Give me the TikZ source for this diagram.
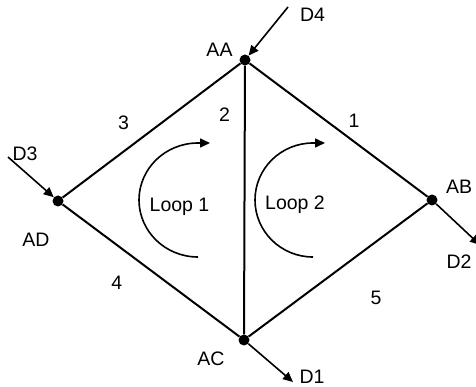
\documentclass[tikz,border=0pt]{standalone}
\usepackage{fontspec}
\setmainfont{Liberation Sans}
\usetikzlibrary{arrows.meta}
\begin{document}
\begin{tikzpicture}[x=1pt,y=-1pt,
  lbl/.style={font=\fontsize{19.5}{22}\selectfont, inner sep=0pt, anchor=base},
  edge/.style={line width=2pt},
  flow/.style={line width=1.6pt,-{Triangle[length=10pt,width=9pt]}},
  dotn/.style={circle,fill=black,inner sep=0pt,minimum size=11pt}]
\useasboundingbox (0,0) rectangle (476,387);
\node[dotn] (AA) at (245,60) {};
\node[dotn] (AD) at (58,201) {};
\node[dotn] (AB) at (432,200) {};
\node[dotn] (AC) at (244,340) {};
\draw[edge] (AA) -- (AD) -- (AC) -- (AB) -- (AA) -- (AC);
\coordinate (d4) at (288,7);
\coordinate (d3) at (8,157);
\coordinate (d2) at (480,245);
\coordinate (d1) at (293,382);
\draw[flow] (d4) -- (AA);
\draw[flow] (d3) -- (AD);
\draw[flow] (AB) -- (d2);
\draw[flow] (AC) -- (d1);
\node[lbl] (tAA) at (219.5,56.7) {AA};
\node[lbl] (tD4) at (312.5,21.7) {D4};
\node[lbl] (tD3) at (25,160.7) {D3};
\node[lbl] (tAD) at (36,246.7) {AD};
\node[lbl] (tAB) at (459,193.3) {AB};
\node[lbl] (tD2) at (459,268.3) {D2};
\node[lbl] (tAC) at (211,365) {AC};
\node[lbl] (tD1) at (312,383.3) {D1};
\node[lbl] (e3) at (123.5,130) {3};
\node[lbl] (e2) at (224.5,121.7) {2};
\node[lbl] (e1) at (354,128) {1};
\node[lbl] (e4) at (116.7,289.7) {4};
\node[lbl] (e5) at (376,304) {5};
\node[lbl] (l1) at (179.5,211.7) {Loop 1};
\node[lbl] (l2) at (295,210) {Loop 2};
\draw[flow] (198,257) arc[start angle=90, end angle=270, x radius=59, y radius=57] -- ++(12,0);
\draw[flow] (313,257) arc[start angle=90, end angle=270, x radius=58, y radius=57] -- ++(12,0);
\end{tikzpicture}
\end{document}
